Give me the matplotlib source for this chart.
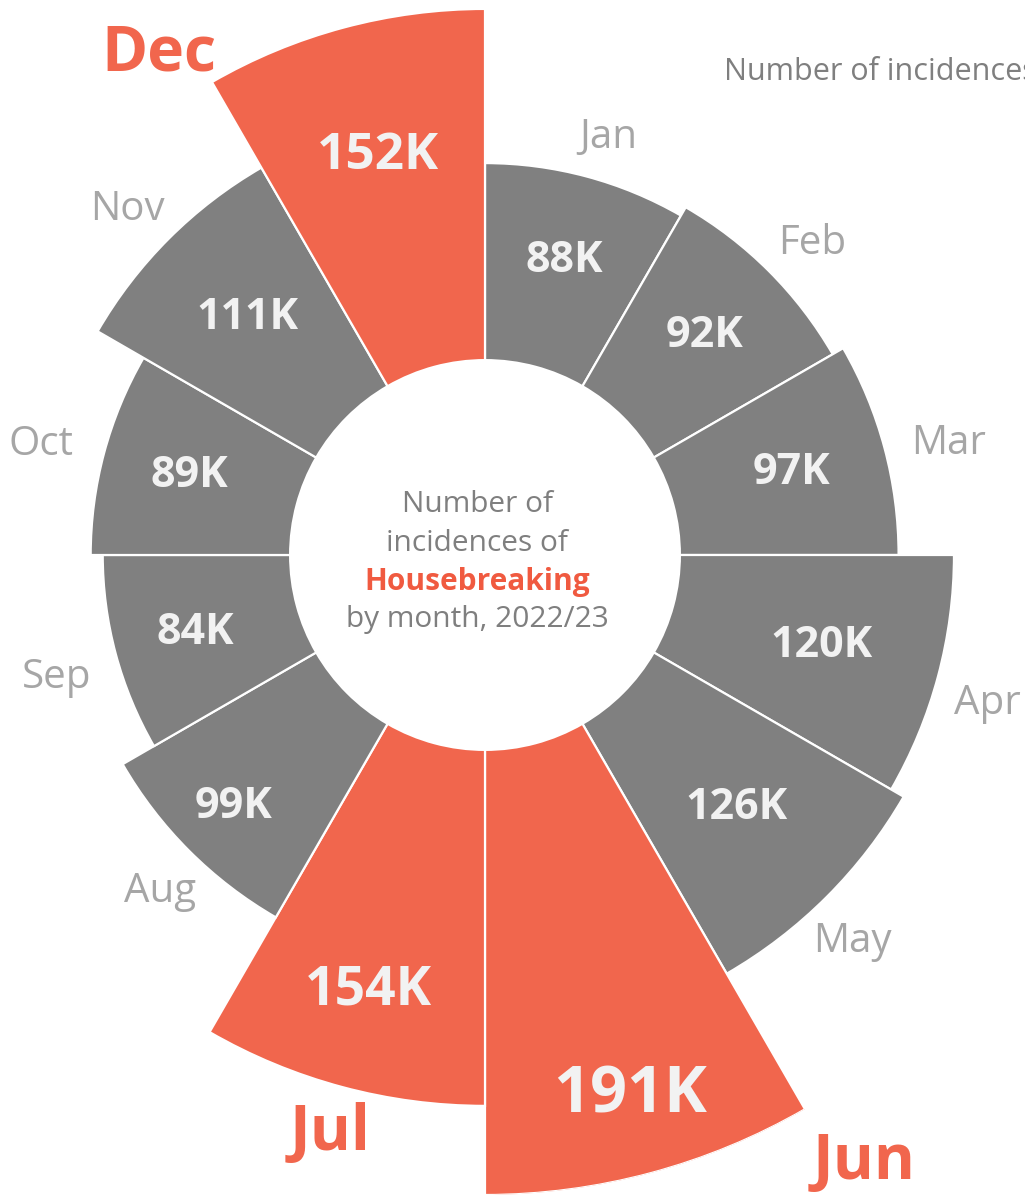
import matplotlib.pyplot as plt
import numpy as np

plt.rcParams['font.family'] = ['Open Sans', 'DejaVu Sans']

months = ['Jan', 'Feb', 'Mar', 'Apr', 'May', 'Jun', 'Jul', 'Aug', 'Sep', 'Oct', 'Nov', 'Dec']
incidences = [88, 92, 97, 120, 126, 191, 154, 99, 84, 89, 111, 152]  # thousands
highlight = ['Jun', 'Jul', 'Dec']

grey = '#808080'
orange = '#F1664D'
label_grey = '#A6A6A6'

fig = plt.figure(figsize=(10.25, 11.96), dpi=100)
# polar axes centred on the chart centre, radius 640 px
ax = fig.add_axes([-155 / 1025, 1 / 1196, 1280 / 1025, 1280 / 1196], projection='polar')
ax.set_theta_zero_location('N')
ax.set_theta_direction(-1)
rorigin, rmax = -74.7, 191
ax.set_rorigin(rorigin)
ax.set_ylim(0, rmax)
ax.set_axis_off()
px = 640 / (rmax - rorigin)  # pixels per data unit

n = len(months)
step = 2 * np.pi / n
theta = np.arange(n) * step + step / 2
vals = np.array(incidences)
hole = 6.2
colors = [orange if m in highlight else grey for m in months]

ax.bar(theta, vals - hole, width=step, bottom=hole, color=colors,
       edgecolor='white', linewidth=1.6, align='center')

# value labels sit a bit further out on some bars
label_frac = {'Aug': 0.72, 'Jul': 0.72, 'Jun': 0.82, 'Dec': 0.62}
value_size = {'Dec': 37, 'Jul': 38.5, 'Jun': 46.5}

for m, t, v in zip(months, theta, vals):
    hl = m in highlight
    f = label_frac.get(m, 0.56)
    ax.text(t, hole + f * (v - hole), f'{v}K', ha='center', va='center', color='#F2F2F2',
            fontsize=value_size.get(m, 31), fontweight='bold')

    # month labels outside the bars
    if hl:
        ang = t
        r = v + 20
        if m == 'Dec':
            ang, r = t - np.deg2rad(18), v + 21.5
        if m == 'Jun':
            ang, r = t - np.deg2rad(17), v + 31.5
        ax.text(ang, r, m, ha='center', va='center', color=orange,
                fontsize=45, fontweight='bold', clip_on=False)
    else:
        w, h, gap = 36, 17, 26
        if m == 'Apr':
            gap = 18
        s, c = abs(np.sin(t)), abs(np.cos(t))
        d = min(w / max(s, 1e-6), h / max(c, 1e-6)) + gap
        ang = t + np.deg2rad(1.5) if t < np.pi else t - np.deg2rad(1)
        ax.text(ang, v + d / px, m, ha='center', va='center',
                color=label_grey, fontsize=29, clip_on=False)

# centre caption
cx = 477 / 1025
cap = dict(ha='center', va='center', color='#7F7F7F', fontsize=21.5)
fig.text(cx, 1 - 505 / 1196, 'Number of', **cap)
fig.text(cx, 1 - 544 / 1196, 'incidences of', **cap)
fig.text(cx, 1 - 582 / 1196, 'Housebreaking', ha='center', va='center', color='#F05A40',
         fontsize=21.5, fontweight='bold')
fig.text(cx, 1 - 620 / 1196, 'by month, 2022/23', **cap)

fig.text(724 / 1025, 1 - 72 / 1196, 'Number of incidences', ha='left', va='center',
         color='#7F7F7F', fontsize=22)

fig.savefig('out.png', dpi=100, facecolor='white')
